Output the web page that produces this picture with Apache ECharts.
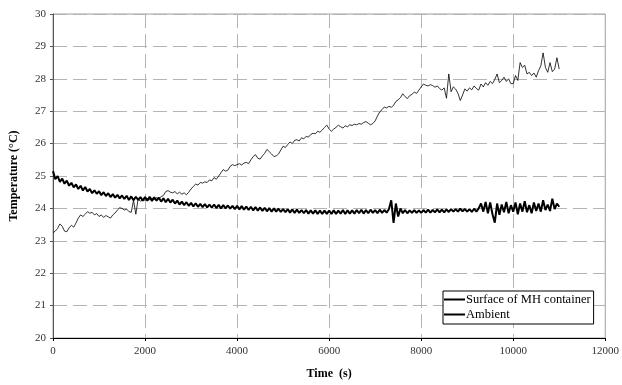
<!DOCTYPE html>
<html>
<head>
<meta charset="utf-8">
<script src="https://cdn.jsdelivr.net/npm/echarts@6/dist/echarts.min.js"></script>
<style>
  html, body { margin: 0; padding: 0; background: #fff; }
  #container { width: 622px; height: 385px; }
</style>
</head>
<body>
<div id="container"></div>
<script>
// sample times (s), 50 s apart
const times = [
  0, 50, 100, 150, 200, 250, 300, 350, 400, 450,
  500, 550, 600, 650, 700, 750, 800, 850, 900, 950,
  1000, 1050, 1100, 1150, 1200, 1250, 1300, 1350, 1400, 1450,
  1500, 1550, 1600, 1650, 1700, 1750, 1800, 1850, 1900, 1950,
  2000, 2050, 2100, 2150, 2200, 2250, 2300, 2350, 2400, 2450,
  2500, 2550, 2600, 2650, 2700, 2750, 2800, 2850, 2900, 2950,
  3000, 3050, 3100, 3150, 3200, 3250, 3300, 3350, 3400, 3450,
  3500, 3550, 3600, 3650, 3700, 3750, 3800, 3850, 3900, 3950,
  4000, 4050, 4100, 4150, 4200, 4250, 4300, 4350, 4400, 4450,
  4500, 4550, 4600, 4650, 4700, 4750, 4800, 4850, 4900, 4950,
  5000, 5050, 5100, 5150, 5200, 5250, 5300, 5350, 5400, 5450,
  5500, 5550, 5600, 5650, 5700, 5750, 5800, 5850, 5900, 5950,
  6000, 6050, 6100, 6150, 6200, 6250, 6300, 6350, 6400, 6450,
  6500, 6550, 6600, 6650, 6700, 6750, 6800, 6850, 6900, 6950,
  7000, 7050, 7100, 7150, 7200, 7250, 7300, 7350, 7400, 7450,
  7500, 7550, 7600, 7650, 7700, 7750, 7800, 7850, 7900, 7950,
  8000, 8050, 8100, 8150, 8200, 8250, 8300, 8350, 8400, 8450,
  8500, 8550, 8600, 8650, 8700, 8750, 8800, 8850, 8900, 8950,
  9000, 9050, 9100, 9150, 9200, 9250, 9300, 9350, 9400, 9450,
  9500, 9550, 9600, 9650, 9700, 9750, 9800, 9850, 9900, 9950,
  10000, 10050, 10100, 10150, 10200, 10250, 10300, 10350, 10400, 10450,
  10500, 10550, 10600, 10650, 10700, 10750, 10800, 10850, 10900, 10950,
  11000
];

// Surface of MH container (°C)
const surfaceTemp = [
  25.15, 24.90, 25.00, 24.82, 24.92, 24.76, 24.86, 24.70, 24.79, 24.65,
  24.74, 24.60, 24.70, 24.55, 24.66, 24.52, 24.60, 24.47, 24.56, 24.45,
  24.53, 24.41, 24.50, 24.38, 24.47, 24.35, 24.44, 24.33, 24.42, 24.31,
  24.40, 24.29, 24.39, 24.26, 24.37, 24.25, 24.36, 24.26, 24.35, 24.24,
  24.35, 24.24, 24.36, 24.23, 24.34, 24.24, 24.33, 24.21, 24.31, 24.19,
  24.30, 24.18, 24.27, 24.15, 24.24, 24.12, 24.21, 24.10, 24.19, 24.08,
  24.17, 24.06, 24.16, 24.05, 24.14, 24.04, 24.13, 24.03, 24.12, 24.02,
  24.12, 24.01, 24.11, 24.00, 24.10, 24.00, 24.09, 23.99, 24.08, 23.98,
  24.08, 23.97, 24.07, 23.96, 24.06, 23.95, 24.05, 23.94, 24.04, 23.93,
  24.03, 23.92, 24.02, 23.91, 24.01, 23.90, 24.00, 23.90, 23.99, 23.89,
  23.98, 23.88, 23.98, 23.87, 23.97, 23.86, 23.96, 23.86, 23.95, 23.85,
  23.95, 23.84, 23.94, 23.84, 23.94, 23.83, 23.93, 23.83, 23.93, 23.83,
  23.93, 23.83, 23.94, 23.83, 23.93, 23.84, 23.95, 23.83, 23.94, 23.84,
  23.94, 23.84, 23.95, 23.85, 23.96, 23.84, 23.95, 23.85, 23.96, 23.86,
  23.95, 23.85, 23.96, 23.86, 23.95, 23.87, 23.98, 24.25, 23.55, 24.15,
  23.75, 24.00, 23.85, 23.95, 23.85, 23.94, 23.86, 23.95, 23.86, 23.94,
  23.86, 23.95, 23.87, 23.96, 23.87, 23.95, 23.88, 23.97, 23.88, 23.96,
  23.88, 23.97, 23.89, 23.98, 23.90, 23.98, 23.90, 23.99, 23.91, 23.98,
  23.90, 23.98, 23.89, 23.99, 23.90, 24.00, 24.15, 23.90, 24.20, 23.85,
  24.18, 23.82, 23.56, 24.15, 23.80, 24.12, 23.88, 24.20, 23.85, 24.10,
  23.90, 24.18, 23.82, 24.15, 23.90, 24.22, 23.88, 24.10, 23.85, 24.18,
  23.92, 24.15, 23.90, 24.25, 23.95, 24.12, 23.92, 24.30, 23.98, 24.15,
  24.05
];

// Ambient (°C)
const ambientTemp = [
  23.25, 23.30, 23.38, 23.52, 23.45, 23.30, 23.28, 23.40, 23.48, 23.42,
  23.55, 23.70, 23.80, 23.75, 23.82, 23.90, 23.85, 23.88, 23.80, 23.84,
  23.75, 23.80, 23.72, 23.78, 23.74, 23.70, 23.80, 23.86, 23.95, 24.02,
  24.00, 23.95, 23.98, 23.90, 23.88, 24.25, 23.82, 24.30, 24.22, 24.28,
  24.25, 24.30, 24.27, 24.32, 24.28, 24.33, 24.30, 24.36, 24.40, 24.52,
  24.55, 24.50, 24.48, 24.52, 24.45, 24.50, 24.44, 24.48, 24.42, 24.50,
  24.60, 24.68, 24.75, 24.72, 24.80, 24.78, 24.82, 24.80, 24.88, 24.85,
  24.95, 24.90, 25.00, 25.10, 25.20, 25.15, 25.18, 25.30, 25.35, 25.32,
  25.35, 25.38, 25.34, 25.40, 25.42, 25.38, 25.50, 25.60, 25.66, 25.55,
  25.52, 25.62, 25.70, 25.82, 25.75, 25.68, 25.60, 25.62, 25.68, 25.80,
  25.92, 25.88, 25.97, 26.05, 26.00, 26.10, 26.12, 26.08, 26.18, 26.15,
  26.22, 26.20, 26.28, 26.32, 26.30, 26.38, 26.35, 26.42, 26.50, 26.57,
  26.45, 26.38, 26.45, 26.50, 26.57, 26.52, 26.48, 26.55, 26.52, 26.58,
  26.56, 26.60, 26.58, 26.62, 26.60, 26.65, 26.68, 26.63, 26.58, 26.62,
  26.70, 26.85, 26.98, 27.05, 27.13, 27.10, 27.15, 27.12, 27.18, 27.30,
  27.35, 27.42, 27.54, 27.45, 27.39, 27.48, 27.52, 27.59, 27.55, 27.65,
  27.75, 27.84, 27.80, 27.78, 27.82, 27.79, 27.74, 27.78, 27.70, 27.65,
  27.72, 27.40, 28.15, 27.60, 27.75, 27.68, 27.55, 27.33, 27.50, 27.69,
  27.62, 27.72, 27.66, 27.78, 27.70, 27.65, 27.84, 27.75, 27.88, 27.80,
  27.92, 27.85, 27.98, 28.15, 27.88, 27.95, 28.05, 27.92, 28.00, 27.85,
  27.85, 28.10, 27.95, 28.50, 28.35, 28.42, 28.15, 28.20, 28.10, 28.18,
  28.05, 28.25, 28.40, 28.80, 28.35, 28.20, 28.50, 28.22, 28.30, 28.65,
  28.30
];

const seriesNames = ['Surface of MH container', 'Ambient'];

function pairs(ys) {
  return times.map(function (t, i) { return [t, ys[i]]; });
}

const serif = '"Liberation Serif", "DejaVu Serif", serif';
const gridLine = { show: true, lineStyle: { color: '#b4b4b4', width: 1, type: [14, 6] } };

let dom = document.getElementById('container');
let myChart = echarts.init(dom, null, { renderer: 'canvas' });

let option = {
  animation: false,
  backgroundColor: '#fff',
  grid: {
    left: 50, right: 13, top: 14, bottom: 42,
    show: true, borderColor: '#a0a0a0', borderWidth: 1
  },
  legend: {
    orient: 'vertical',
    left: 443,
    top: 291,
    backgroundColor: '#fff',
    borderColor: '#000',
    borderWidth: 1,
    padding: [2, 3, 3, 0],
    itemGap: 2,
    itemWidth: 21,
    itemHeight: 8,
    itemStyle: { opacity: 0 },
    textStyle: { fontFamily: serif, fontSize: 12.5, color: '#000', padding: [0, 0, 0, -4] },
    data: [seriesNames[0], seriesNames[1]]
  },
  xAxis: {
    type: 'value',
    min: 0, max: 12000, interval: 2000,
    name: 'Time  (s)',
    nameLocation: 'middle',
    nameGap: 30,
    nameTextStyle: { fontFamily: serif, fontSize: 12, fontWeight: 'bold', color: '#000' },
    axisLine: { show: true, lineStyle: { color: '#000', width: 1 } },
    axisTick: { show: true, length: 3, lineStyle: { color: '#000' } },
    axisLabel: {
      fontFamily: serif, fontSize: 11, color: '#333', margin: 8,
      formatter: function (v) { return String(v); }
    },
    splitLine: gridLine
  },
  yAxis: {
    type: 'value',
    min: 20, max: 30, interval: 1,
    name: 'Temperature (°C)',
    nameLocation: 'middle',
    nameGap: 33,
    nameTextStyle: { fontFamily: serif, fontSize: 12, fontWeight: 'bold', color: '#000' },
    axisLine: { show: true, lineStyle: { color: '#555', width: 1 } },
    axisTick: { show: true, length: 3, lineStyle: { color: '#555' } },
    axisLabel: { fontFamily: serif, fontSize: 11, color: '#333', margin: 7 },
    splitLine: gridLine
  },
  series: [
    {
      name: seriesNames[1],
      type: 'line',
      data: pairs(ambientTemp),
      showSymbol: false,
      symbol: 'none',
      lineStyle: { color: '#000', width: 0.8 },
      itemStyle: { color: '#000' },
      z: 2
    },
    {
      name: seriesNames[0],
      type: 'line',
      data: pairs(surfaceTemp),
      showSymbol: false,
      symbol: 'none',
      lineStyle: { color: '#000', width: 2 },
      itemStyle: { color: '#000' },
      z: 3
    }
  ]
};

myChart.setOption(option);
</script>
</body>
</html>
